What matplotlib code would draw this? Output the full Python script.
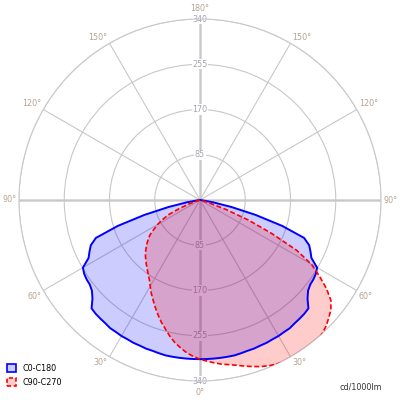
import numpy as np
import matplotlib
matplotlib.use("Agg")
import matplotlib.pyplot as plt
from matplotlib.patches import Patch

# gamma angles (deg from nadir) and intensities in cd/1000lm
gamma = [0, 2.5, 5, 7.5, 10, 12.5, 15, 17.5, 20, 22.5, 25, 27.5, 30, 32.5, 35,
         37.5, 40, 42.5, 45, 47.5, 50, 52.5, 55, 57.5, 60, 62.5, 65, 67.5, 70,
         72.5, 75, 77.5, 80, 82.5, 85, 87.5, 90]

c0_c180 = [299, 299, 299, 299, 299, 299, 298, 297, 297, 296, 296, 295, 295, 294,
           294, 292, 291, 290, 288, 274, 265, 261, 260, 258, 254, 236, 229, 222,
           208, 162, 108, 60, 25, 5, 0, 0, 0]

c90 = [300, 303, 307, 311, 314, 318, 323, 328, 333, 337, 340, 343, 345, 347,
       347, 346, 345, 340, 335, 328, 321, 310, 290, 266, 242, 205, 148, 98,
       52, 18, 0, 0, 0, 0, 0, 0, 0]

c270 = [299, 294, 288, 280, 272, 262, 251, 241, 230, 219, 208, 198, 187, 177,
        170, 163, 157, 151, 145, 138, 131, 123, 115, 103, 92, 79, 65, 42,
        25, 10, 0, 0, 0, 0, 0, 0, 0]

rings = [85, 170, 255, 340]
angle_ticks = [0, 30, 60, 90, 120, 150, 180]

GRID = "#c8c8c8"
RING_TXT = "#a8a2b0"
ANG_TXT = "#b5a393"
FS = 5.8


def curve(left, right):
    g = np.radians(gamma)
    th = np.concatenate([-g[::-1], g[1:]])
    r = np.concatenate([np.array(left)[::-1], np.array(right)[1:]])
    return th, r


fig = plt.figure(figsize=(4, 4), dpi=100)
ax = fig.add_axes([0.0475, 0.0475, 0.905, 0.905], projection="polar")
ax.set_theta_zero_location("S")
ax.set_theta_direction(1)
ax.set_ylim(0, 340)
ax.set_xticks(np.radians(np.arange(0, 360, 30)))
ax.set_xticklabels([])
ax.set_yticks(rings)
ax.set_yticklabels([])
ax.grid(True, color=GRID, lw=0.8)
ax.spines["polar"].set_color(GRID)
ax.spines["polar"].set_linewidth(0.8)

# main axes drawn heavier
for a in [0, 90, 180, 270]:
    ax.plot([np.radians(a)] * 2, [0, 340], color="#d6d6d6", lw=2, zorder=1)

# ring value labels (top and bottom)
for v in rings:
    for t in [0, np.pi]:
        ax.text(t, v, str(v), ha="center", va="center", fontsize=FS,
                color=RING_TXT, zorder=2,
                bbox=dict(facecolor="white", edgecolor="none", pad=0.4))

# angle labels round the outside
for a in angle_ticks:
    sides = [1] if a in (0, 180) else [1, -1]
    for s in sides:
        th = np.radians(a * s)
        if a == 0:
            ha, va, off = "center", "top", (0, -4.8)
        elif a == 180:
            ha, va, off = "center", "bottom", (0, 4.2)
        else:
            ha = "left" if s == 1 else "right"
            va = "top" if a < 90 else ("center" if a == 90 else "bottom")
            dy = -1 if a < 90 else (0 if a == 90 else 1)
            off = (1.5 * s, dy)
        ax.annotate("%d\u00b0" % a, xy=(th, 340), xytext=off,
                    textcoords="offset points", ha=ha, va=va,
                    fontsize=FS, color=ANG_TXT, annotation_clip=False)

th_b, r_b = curve(c0_c180, c0_c180)
th_r, r_r = curve(c270, c90)

ax.fill(th_b, r_b, color=(0, 0, 1, 0.2), lw=0, zorder=4)
ax.fill(th_r, r_r, color=(1, 0, 0, 0.2), lw=0, zorder=4)
ax.plot(th_b, r_b, color="#0000ff", lw=1.4, zorder=5)
ax.plot(th_r, r_r, color="#ff0000", lw=1.2, ls=(0, (3, 1.5)), zorder=5)

handles = [Patch(facecolor=(0, 0, 1, 0.2), edgecolor="#0000ff", lw=1.2,
                 label="C0-C180"),
           Patch(facecolor=(1, 0, 0, 0.2), edgecolor="#ff0000", lw=1.2,
                 ls=(0, (2.5, 1.5)), label="C90-C270")]
fig.legend(handles=handles, loc="upper left",
           bbox_to_anchor=(7 / 400, 1 - 364 / 400), frameon=False,
           fontsize=FS, handlelength=1.15, handleheight=1.15,
           handletextpad=0.8, labelspacing=0.6, borderpad=0,
           borderaxespad=0)

fig.text(382 / 400, 1 - 387 / 400, "cd/1000lm", ha="right", va="center",
         fontsize=FS, color="#333333")

fig.savefig("out.png", dpi=100)
